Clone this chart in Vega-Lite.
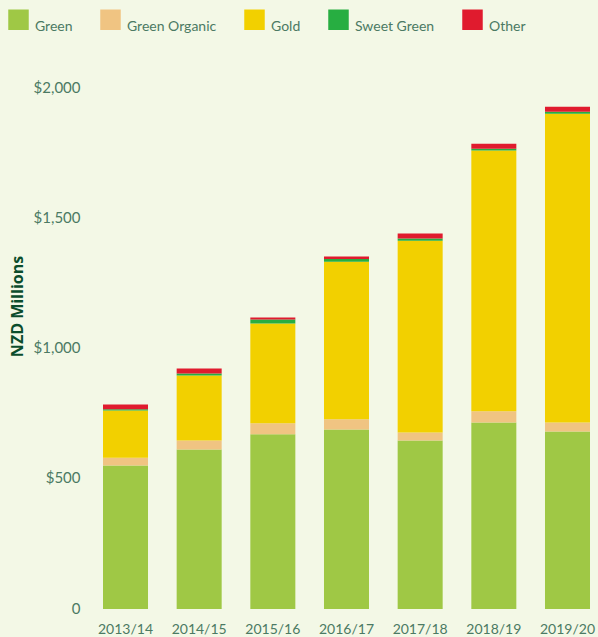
{
  "$schema": "https://vega.github.io/schema/vega-lite/v6.json",
  "autosize": "none",
  "width": 487,
  "height": 521,
  "padding": {"left": 103, "top": 88, "right": 8, "bottom": 28},
  "background": "#f3f8e6",
  "config": {
    "view": {"stroke": null},
    "font": "Lato"
  },
  "data": {
    "values": [
      {"year": "2013/14", "variety": "Green", "k": 1, "value": 551},
      {"year": "2013/14", "variety": "Green Organic", "k": 2, "value": 30},
      {"year": "2013/14", "variety": "Gold", "k": 3, "value": 181},
      {"year": "2013/14", "variety": "Sweet Green", "k": 4, "value": 5},
      {"year": "2013/14", "variety": "Other", "k": 5, "value": 18},
      {"year": "2014/15", "variety": "Green", "k": 1, "value": 612},
      {"year": "2014/15", "variety": "Green Organic", "k": 2, "value": 35},
      {"year": "2014/15", "variety": "Gold", "k": 3, "value": 249},
      {"year": "2014/15", "variety": "Sweet Green", "k": 4, "value": 8},
      {"year": "2014/15", "variety": "Other", "k": 5, "value": 19},
      {"year": "2015/16", "variety": "Green", "k": 1, "value": 671},
      {"year": "2015/16", "variety": "Green Organic", "k": 2, "value": 42},
      {"year": "2015/16", "variety": "Gold", "k": 3, "value": 383},
      {"year": "2015/16", "variety": "Sweet Green", "k": 4, "value": 15},
      {"year": "2015/16", "variety": "Other", "k": 5, "value": 8},
      {"year": "2016/17", "variety": "Green", "k": 1, "value": 689},
      {"year": "2016/17", "variety": "Green Organic", "k": 2, "value": 39},
      {"year": "2016/17", "variety": "Gold", "k": 3, "value": 605},
      {"year": "2016/17", "variety": "Sweet Green", "k": 4, "value": 11},
      {"year": "2016/17", "variety": "Other", "k": 5, "value": 9},
      {"year": "2017/18", "variety": "Green", "k": 1, "value": 647},
      {"year": "2017/18", "variety": "Green Organic", "k": 2, "value": 31},
      {"year": "2017/18", "variety": "Gold", "k": 3, "value": 736},
      {"year": "2017/18", "variety": "Sweet Green", "k": 4, "value": 8},
      {"year": "2017/18", "variety": "Other", "k": 5, "value": 19},
      {"year": "2018/19", "variety": "Green", "k": 1, "value": 716},
      {"year": "2018/19", "variety": "Green Organic", "k": 2, "value": 43},
      {"year": "2018/19", "variety": "Gold", "k": 3, "value": 1001},
      {"year": "2018/19", "variety": "Sweet Green", "k": 4, "value": 7},
      {"year": "2018/19", "variety": "Other", "k": 5, "value": 19},
      {"year": "2019/20", "variety": "Green", "k": 1, "value": 681},
      {"year": "2019/20", "variety": "Green Organic", "k": 2, "value": 35},
      {"year": "2019/20", "variety": "Gold", "k": 3, "value": 1185},
      {"year": "2019/20", "variety": "Sweet Green", "k": 4, "value": 8},
      {"year": "2019/20", "variety": "Other", "k": 5, "value": 19}
    ]
  },
  "mark": {"type": "bar"},
  "encoding": {
    "x": {
      "field": "year",
      "type": "nominal",
      "scale": {"paddingInner": 0.389, "paddingOuter": 0},
      "axis": {
        "title": null,
        "labelAngle": 0,
        "domain": false,
        "ticks": false,
        "labelPadding": 13,
        "labelFont": "Lato",
        "labelFontSize": 14,
        "labelColor": "#4b7a63"
      }
    },
    "y": {
      "field": "value",
      "type": "quantitative",
      "stack": "zero",
      "scale": {"domain": [0, 2000], "nice": false},
      "axis": {
        "values": [0, 500, 1000, 1500, 2000],
        "labelExpr": "datum.value == 0 ? '0' : '$' + format(datum.value, ',')",
        "grid": false,
        "domain": false,
        "ticks": false,
        "labelPadding": 23,
        "labelFont": "Lato",
        "labelFontSize": 15,
        "labelColor": "#4b7a63",
        "labelOffset": -1,
        "title": "NZD Millions",
        "titleFont": "Open Sans",
        "titleFontWeight": "bold",
        "titleFontSize": 16,
        "titleColor": "#0b4d2c",
        "titleAngle": -90,
        "titleAlign": "center",
        "titleBaseline": "middle",
        "titleX": -86,
        "titleY": 218
      }
    },
    "color": {
      "field": "variety",
      "type": "nominal",
      "scale": {
        "domain": ["Green", "Green Organic", "Gold", "Sweet Green", "Other"],
        "range": ["#9fc845", "#f0c482", "#f2d000", "#27ae41", "#e01b2e"]
      },
      "legend": {
        "title": null,
        "orient": "none",
        "direction": "horizontal",
        "legendX": -95,
        "legendY": -79,
        "symbolType": "square",
        "symbolSize": 420,
        "symbolStrokeWidth": 0,
        "symbolOpacity": 1,
        "labelOffset": 6,
        "columnPadding": 27,
        "labelFont": "Lato",
        "labelFontSize": 14,
        "labelColor": "#4b7a63",
        "labelBaseline": "top",
        "labelLimit": 200
      }
    },
    "order": {"field": "k", "type": "quantitative"}
  }
}
